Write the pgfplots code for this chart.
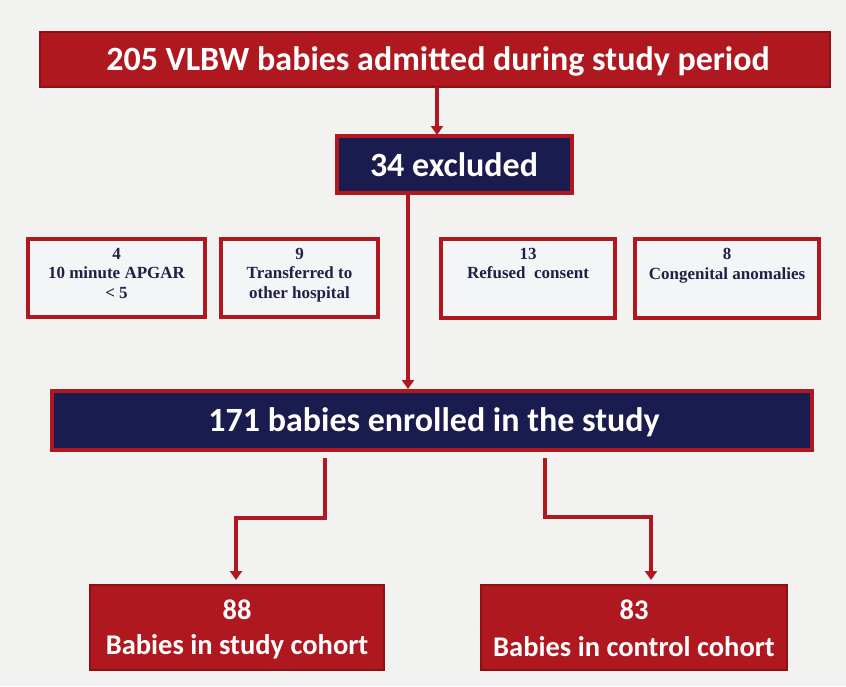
\documentclass[border=0pt]{standalone}
\usepackage{pgfplots}
\pgfplotsset{compat=1.18}
\usepackage{fontspec}
\setmainfont{Carlito}
\newfontfamily\serifb{Liberation Serif}
\usetikzlibrary{arrows.meta}
\definecolor{bg}{HTML}{F2F2F0}
\definecolor{myred}{HTML}{B0181F}
\definecolor{darkred}{HTML}{8E1016}
\definecolor{navy}{HTML}{1A1B4E}
\definecolor{txtnavy}{HTML}{1F2145}
\definecolor{boxbg}{HTML}{F4F5F7}
\begin{document}
\begin{tikzpicture}
\begin{axis}[width=846pt,height=686pt,scale only axis,
  xmin=0,xmax=846,ymin=0,ymax=686,y dir=reverse,hide axis,clip=false]
\fill[bg] (axis cs:0,0) rectangle (axis cs:846,686);
% top box
\filldraw[fill=myred,draw=darkred,line width=1.2pt] (axis cs:40,32) rectangle (axis cs:830,87);
\node[text=white,font=\bfseries\fontsize{34}{40}\selectfont] at (axis cs:438,61) {205 VLBW babies admitted during study period};
% arrow to excluded
\draw[myred,line width=3.2pt,-{Triangle[width=12pt,length=9pt]}] (axis cs:437,87) -- (axis cs:437,135);
% excluded box
\filldraw[fill=navy,draw=myred,line width=3.5pt] (axis cs:337,136) rectangle (axis cs:572,193);
\node[text=white,font=\bfseries\fontsize{34}{40}\selectfont] at (axis cs:454,165) {34 excluded};
% long arrow
\draw[myred,line width=3.2pt,-{Triangle[width=12pt,length=9pt]}] (axis cs:408,195) -- (axis cs:408,389);
% small boxes
\filldraw[fill=boxbg,draw=myred,line width=3.2pt] (axis cs:28,239) rectangle (axis cs:205,317);
\filldraw[fill=boxbg,draw=myred,line width=3.2pt] (axis cs:221,239) rectangle (axis cs:378,317);
\filldraw[fill=boxbg,draw=myred,line width=3.2pt] (axis cs:441,239) rectangle (axis cs:615,318);
\filldraw[fill=boxbg,draw=myred,line width=3.2pt] (axis cs:635,239) rectangle (axis cs:819,318);
\begin{scope}[every node/.style={text=txtnavy,font=\serifb\bfseries\fontsize{17}{19.5}\selectfont,align=center,anchor=north,inner sep=0pt}]
\node at (axis cs:116.5,248) {4\\10 minute APGAR\\\textless{} 5};
\node at (axis cs:299.5,248) {9\\Transferred to\\other hospital};
\node at (axis cs:528,248) {13\\Refused\ \ consent};
\node at (axis cs:727,248) {8\\Congenital anomalies};
\end{scope}
% enrolled box
\filldraw[fill=navy,draw=myred,line width=3.5pt] (axis cs:52,391) rectangle (axis cs:812,450);
\node[text=white,font=\bfseries\fontsize{34}{40}\selectfont] at (axis cs:434,422) {171 babies enrolled in the study};
% branches
\draw[myred,line width=3.2pt,-{Triangle[width=12pt,length=9pt]}] (axis cs:325,458) -- (axis cs:325,518) -- (axis cs:236,518) -- (axis cs:236,580);
\draw[myred,line width=3.2pt,-{Triangle[width=12pt,length=9pt]}] (axis cs:545,458) -- (axis cs:545,517) -- (axis cs:651,517) -- (axis cs:651,580);
% bottom boxes
\filldraw[fill=myred,draw=darkred,line width=1.2pt] (axis cs:90,585) rectangle (axis cs:384,670);
\filldraw[fill=myred,draw=darkred,line width=1.2pt] (axis cs:481,585) rectangle (axis cs:787,670);
\begin{scope}[every node/.style={text=white,font=\bfseries\fontsize{28.5}{34}\selectfont}]
\node at (axis cs:237,610) {88};
\node at (axis cs:237,647) {Babies in study cohort};
\node at (axis cs:634,610) {83};
\node at (axis cs:634,647) {Babies in control cohort};
\end{scope}
\end{axis}
\end{tikzpicture}
\end{document}
